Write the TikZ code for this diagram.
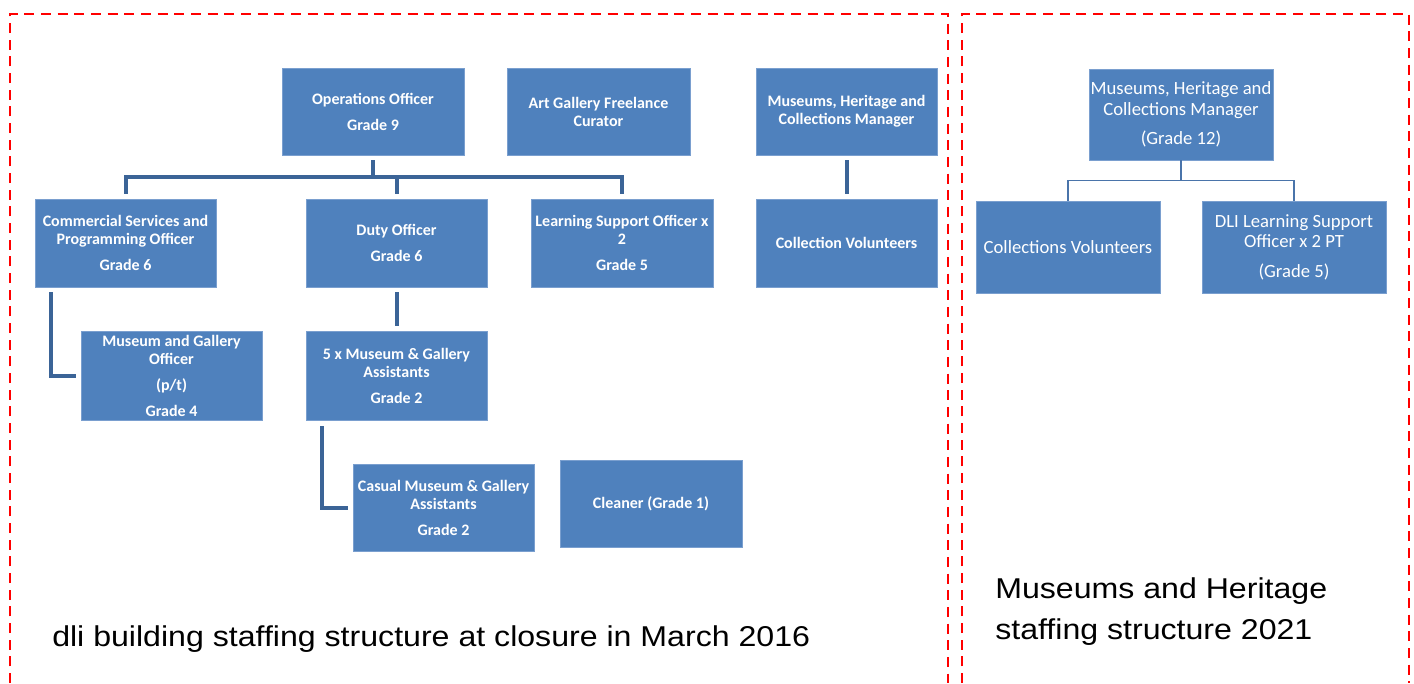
\documentclass[tikz,border=0pt]{standalone}
\usepackage{graphicx}
\usepackage{fontspec}
\setmainfont{Carlito}
\newfontfamily\capfont{Liberation Sans}
\definecolor{boxfill}{HTML}{4F81BD}
\definecolor{boxedge}{HTML}{7A9FCF}
\definecolor{connblue}{HTML}{3B6497}
\definecolor{connthin}{HTML}{4A74AA}
\definecolor{dashred}{HTML}{FF0000}
\tikzset{
  box/.style={rectangle, fill=boxfill, draw=boxedge, line width=0.6pt, inner sep=0pt,
    text=white, align=center},
  oldtxt/.style={font=\fontsize{12pt}{13.5pt}\selectfont\bfseries},
  newtxt/.style={font=\fontsize{14pt}{15.2pt}\selectfont},
  conn/.style={draw=connblue, line width=3pt, line join=miter},
  connr/.style={draw=connthin, line width=1.3pt},
  frame/.style={draw=dashred, line width=1.6pt, dash pattern=on 7.5pt off 5pt},
  captxt/.style={font=\capfont\fontsize{21.5pt}{25pt}\selectfont, inner sep=0pt, text=black}
}
\newcommand{\bx}[7]{%
  \node[box,#7, minimum width={(#4-#2)*0.75pt}, minimum height={(#5-#3)*0.75pt}]
    (#1) at ({(#2+#4)/2},{(#3+#5)/2}) {#6};}
\newcommand{\stretched}[1]{\scalebox{1.12}[1]{#1}}
\begin{document}
\begin{tikzpicture}[x=0.75pt,y=-0.75pt]
\useasboundingbox (0,0) rectangle (1414,683);
% frames
\draw[frame] (10,683) -- (10,14) -- (948,14) -- (948,683);
\draw[frame] (962,683) -- (962,14) -- (1409,14) -- (1409,683);
% left chart
\bx{ops}{282}{68}{464}{155}{Operations Officer\\[6pt]Grade 9}{oldtxt}
\bx{art}{507}{68}{690}{155}{Art Gallery Freelance\\Curator}{oldtxt}
\bx{mhl}{756}{68}{937}{155}{Museums, Heritage and\\Collections Manager}{oldtxt}
\bx{com}{35}{199}{216}{287}{Commercial Services and\\Programming Officer\\[6pt]Grade 6}{oldtxt}
\bx{duty}{306}{199}{487}{287}{Duty Officer\\[6pt]Grade 6}{oldtxt}
\bx{lso}{531}{199}{713}{287}{Learning Support Officer x\\2\\[6pt]Grade 5}{oldtxt}
\bx{colv}{756}{199}{937}{287}{Collection Volunteers}{oldtxt}
\bx{mgo}{81}{331}{262}{420}{Museum and Gallery\\Officer\\[6pt](p/t)\\[6pt]Grade 4}{oldtxt}
\bx{five}{306}{331}{487}{420}{5 x Museum \& Gallery\\Assistants\\[6pt]Grade 2}{oldtxt}
\bx{cas}{353}{464}{534}{551}{Casual Museum \& Gallery\\Assistants\\[6pt]Grade 2}{oldtxt}
\bx{cln}{560}{460}{742}{547}{Cleaner (Grade 1)}{oldtxt}
% left connectors
\draw[conn] ([yshift=-3.75pt]ops.south) -- ++(0,17);
\draw[conn] ([yshift=3.75pt]com.north) -- ++(0,-17) -| ([yshift=3.75pt]lso.north);
\draw[conn] ([yshift=3.75pt]duty.north) -- ++(0,-17);
\draw[conn] ([yshift=-3.75pt]mhl.south) -- ([yshift=3.75pt]colv.north);
\draw[conn] ([xshift=12pt,yshift=-3.75pt]com.south west) |- ([xshift=-3.75pt]mgo.west);
\draw[conn] ([yshift=-3.75pt]duty.south) -- ([yshift=3.75pt]five.north);
\draw[conn] ([xshift=12pt,yshift=-4.5pt]five.south west) |- ([xshift=-3.75pt]cas.west);
% right chart
\bx{mgr}{1089}{69}{1273}{160}{Museums, Heritage and\\Collections Manager\\[7pt](Grade 12)}{newtxt}
\bx{cv}{976}{201}{1160}{293}{Collections Volunteers}{newtxt}
\bx{dli}{1202}{201}{1386}{293}{DLI Learning Support\\Officer x 2 PT\\[7pt](Grade 5)}{newtxt}
\draw[connr] (mgr.south) -- ++(0,20) -| (cv.north);
\draw[connr] (mgr.south) ++(0,20) -| (dli.north);
% captions
\node[captxt, anchor=base west] (cap1) at (52,646) {\stretched{dli building staffing structure at closure in March 2016}};
\node[captxt, anchor=base west] (cap2a) at (995,598) {\stretched{Museums and Heritage}};
\node[captxt, anchor=base west] (cap2b) at (995,639) {\stretched{staffing structure 2021}};
\end{tikzpicture}
\end{document}
